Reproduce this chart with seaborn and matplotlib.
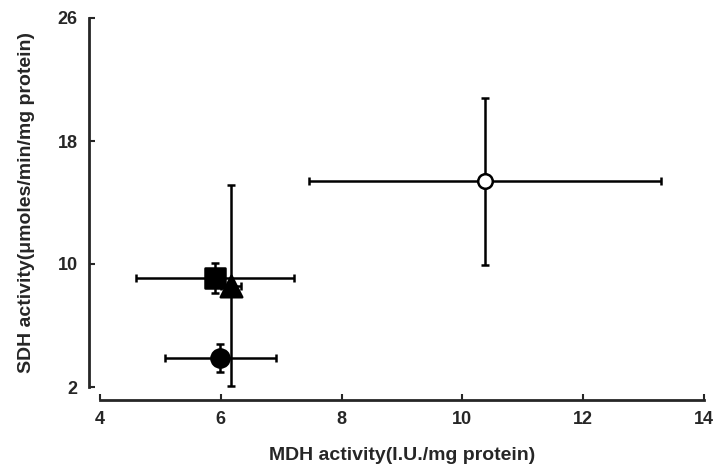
import matplotlib
matplotlib.use("Agg")
import matplotlib.pyplot as plt
import seaborn as sns
import pandas as pd

# Data
groups = ["open circle", "square", "triangle", "filled circle"]
mdh = [10.37, 5.90, 6.17, 5.99]
mdh_err = [2.91, 1.31, 0.16, 0.92]
sdh = [15.37, 9.09, 8.60, 3.90]
sdh_err = [5.43, 0.98, 6.53, 0.90]

x_ticks = [4, 6, 8, 10, 12, 14]
y_ticks = [2, 10, 18, 26]

df = pd.DataFrame({"group": groups, "mdh": mdh, "mdh_err": mdh_err,
                   "sdh": sdh, "sdh_err": sdh_err})

sns.set_style("ticks")
plt.rcParams["font.family"] = ["Liberation Sans", "DejaVu Sans"]
plt.rcParams["font.weight"] = "bold"

fig = plt.figure(figsize=(7.15, 4.68), dpi=100)
ax = fig.add_axes([100 / 715, 1 - 387 / 468, 604 / 715, 369 / 468])

for _, r in df.iterrows():
    ax.errorbar(r["mdh"], r["sdh"], xerr=r["mdh_err"], yerr=r["sdh_err"],
                fmt="none", ecolor="black", elinewidth=1.8, capsize=3,
                capthick=1.8, zorder=2)

markers = {"open circle": "o", "square": "s", "triangle": "^", "filled circle": "o"}
sizes = {"open circle": 110, "square": 190, "triangle": 240, "filled circle": 170}
faces = {"open circle": "white", "square": "black", "triangle": "black", "filled circle": "black"}
for g in groups:
    sub = df[df["group"] == g]
    sns.scatterplot(data=sub, x="mdh", y="sdh", marker=markers[g], s=sizes[g],
                    color=faces[g], edgecolor="black", linewidth=1.8,
                    ax=ax, zorder=3, legend=False)

ax.set_xlim(4, 14)
ax.set_ylim(2, 26)
ax.set_xticks(x_ticks)
ax.set_yticks(y_ticks)
ax.tick_params(direction="in", length=4, width=1.5, pad=8, labelsize=13)
ax.set_xticklabels([str(t) for t in x_ticks])
ax.set_yticklabels([str(t) for t in y_ticks])
for lab in ax.get_xticklabels() + ax.get_yticklabels():
    lab.set_fontweight("bold")
    lab.set_fontsize(13)

sns.despine(ax=ax)
ax.spines["left"].set_position(("outward", 8))
ax.spines["bottom"].set_position(("outward", 9))
for s in ("left", "bottom"):
    ax.spines[s].set_linewidth(2)

ax.set_xlabel("MDH activity(I.U./mg protein)", fontsize=14, fontweight="bold", labelpad=14)
ax.set_ylabel("SDH activity(\u03bcmoles/min/mg protein)", fontsize=14,
              fontweight="bold", labelpad=16)

fig.savefig("out.png", dpi=100)
